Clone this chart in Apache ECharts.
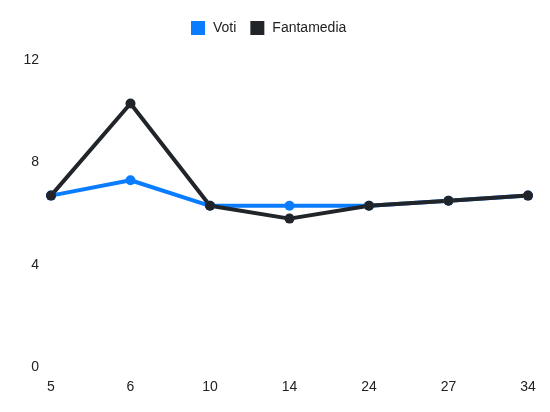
<!DOCTYPE html>
<html><head><meta charset="utf-8">
<script src="https://cdn.jsdelivr.net/npm/echarts@6/dist/echarts.min.js"></script>
<style>html,body{margin:0;padding:0;background:#fff}#c{width:550px;height:412px}</style>
</head><body><div id="c"></div>
<script>
var categories = ['5','6','10','14','24','27','34'];
var voti = [6.7, 7.3, 6.3, 6.3, 6.3, 6.5, 6.7];
var fantamedia = [6.7, 10.3, 6.3, 5.8, 6.3, 6.5, 6.7];
var chart = echarts.init(document.getElementById('c'));
chart.setOption({
  animation:false,
  textStyle:{fontFamily:'Liberation Sans, Arial, sans-serif'},
  legend:{top:16,left:186,itemWidth:14,itemHeight:14,itemGap:14,
    icon:'rect',textStyle:{fontSize:14,color:'#222',padding:[0,0,0,3]},
    data:['Voti','Fantamedia']},
  grid:{left:51,right:22,top:60,bottom:45,containLabel:false},
  xAxis:{type:'category',data:categories,boundaryGap:false,
    axisLine:{show:false},axisTick:{show:false},splitLine:{show:false},
    axisLabel:{color:'#222',fontSize:14,margin:13}},
  yAxis:{type:'value',min:0,max:12,interval:4,
    axisLine:{show:false},axisTick:{show:false},splitLine:{show:false},
    axisLabel:{color:'#222',fontSize:14,margin:12}},
  series:[
    {name:'Voti',type:'line',data:voti,symbol:'circle',symbolSize:10,
     lineStyle:{width:4,color:'#0a7cff'},itemStyle:{color:'#0a7cff'}},
    {name:'Fantamedia',type:'line',data:fantamedia,symbol:'circle',symbolSize:10,
     lineStyle:{width:4,color:'#212529'},itemStyle:{color:'#212529'}}
  ]
});
</script></body></html>
